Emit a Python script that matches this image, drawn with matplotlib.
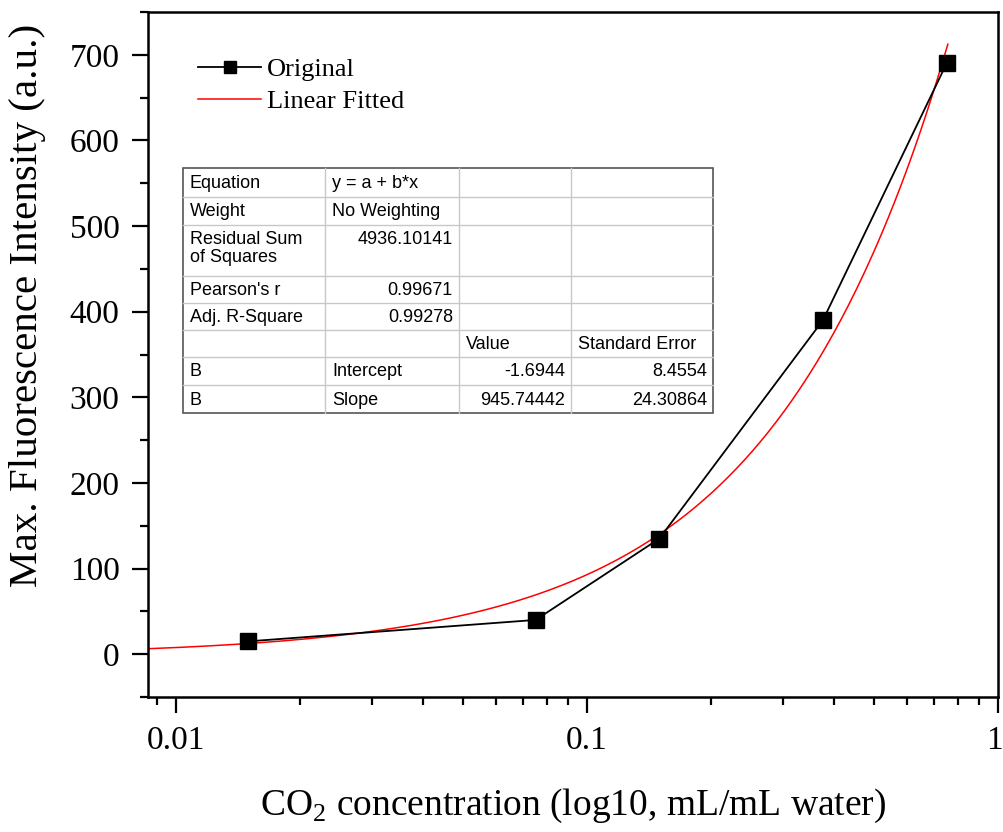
import numpy as np
import matplotlib
matplotlib.use("Agg")
import matplotlib.pyplot as plt
import matplotlib.transforms as mtransforms
from matplotlib.lines import Line2D

plt.rcParams["font.family"] = ["Liberation Serif", "DejaVu Serif"]
plt.rcParams["mathtext.fontset"] = "custom"
plt.rcParams["mathtext.rm"] = "Liberation Serif"

# data
co2 = [0.015, 0.075, 0.15, 0.375, 0.75]
intensity = [15, 40, 135, 390, 690]

# fit parameters (from the results table)
fit_a = -1.6944
fit_b = 945.74442
fit_x_range = [0.0085, 0.755]

table_rows = [
    ["Equation", "y = a + b*x", "", ""],
    ["Weight", "No Weighting", "", ""],
    ["Residual Sum\nof Squares", "4936.10141", "", ""],
    ["Pearson's r", "0.99671", "", ""],
    ["Adj. R-Square", "0.99278", "", ""],
    ["", "", "Value", "Standard Error"],
    ["B", "Intercept", "-1.6944", "8.4554"],
    ["B", "Slope", "945.74442", "24.30864"],
]

W, H = 1004, 832
fig = plt.figure(figsize=(W / 100, H / 100), dpi=100)
ax = fig.add_axes([148 / W, 1 - 697 / H, 850 / W, 685 / H])

fx = np.geomspace(fit_x_range[0], fit_x_range[1], 300)
ax.plot(fx, fit_a + fit_b * fx, color="red", lw=1.1, label="Linear Fitted", zorder=2)
ax.plot(co2, intensity, color="black", lw=1.3, marker="s", markersize=11.5,
        label="Original", zorder=3)

ax.set_xscale("log")
ax.set_xlim(0.00855, 1)
ax.set_ylim(-50, 750)
ax.set_yticks([0, 100, 200, 300, 400, 500, 600, 700])
ax.set_yticks(np.arange(-50, 751, 50), minor=True)
ax.set_xticks([0.01, 0.1, 1])
ax.set_xticklabels(["0.01", "0.1", "1"])

for s in ax.spines.values():
    s.set_linewidth(1.8)
ax.tick_params(which="major", direction="out", length=11.5, width=1.6,
               labelsize=24, pad=9)
ax.tick_params(which="minor", direction="out", length=6, width=1.6)
ax.tick_params(top=False, right=False, which="both")

# keep the "1" at the right edge inside the picture
last = ax.get_xticklabels()[-1]
last.set_transform(last.get_transform() +
                   mtransforms.ScaledTranslation(-4 / 100, 0, fig.dpi_scale_trans))

ax.set_xlabel(r"CO$_\mathrm{2}$ concentration (log10, mL/mL water)", fontsize=27)
ax.xaxis.set_label_coords(0.5, (697 - 815) / 685)
ax.xaxis.label.set_verticalalignment("baseline")
ax.set_ylabel("Max. Fluorescence Intensity (a.u.)", fontsize=29.5)
ax.yaxis.set_label_coords((46 - 148) / 850, (697 - 305) / 685)

# legend
handles, labels = ax.get_legend_handles_labels()
leg = ax.legend(handles[::-1], labels[::-1], loc="upper left",
                bbox_to_anchor=((198 - 148) / 850, (697 - 58) / 685),
                frameon=False, fontsize=19, handlelength=2.4, handletextpad=0.2,
                labelspacing=0.3, borderpad=0, borderaxespad=0, markerscale=0.8)

# results table drawn in figure pixels
col_x = [183, 325, 459, 571, 713]
row_y = [168, 197, 225, 276, 303, 330, 357, 385, 413]


def fy(py):
    return 1 - py / H


for y in row_y[1:-1]:
    fig.add_artist(Line2D([col_x[0] / W, col_x[-1] / W], [fy(y), fy(y)],
                          color="#c8c8c8", lw=1.0))
for x in col_x[1:-1]:
    fig.add_artist(Line2D([x / W, x / W], [fy(row_y[0]), fy(row_y[-1])],
                          color="#c8c8c8", lw=1.0))
fig.add_artist(plt.Rectangle((col_x[0] / W, fy(row_y[-1])),
                             (col_x[-1] - col_x[0]) / W,
                             (row_y[-1] - row_y[0]) / H,
                             fill=False, ec="#555555", lw=1.2))

numeric_cols = {1: [2, 3, 4], 2: [6, 7], 3: [6, 7]}
for r, row in enumerate(table_rows):
    for c, txt in enumerate(row):
        if not txt:
            continue
        if c in numeric_cols and r in numeric_cols[c]:
            x, ha = col_x[c + 1] - 6, "right"
        else:
            x, ha = col_x[c] + 7, "left"
        if r == 2:
            # tall row: text sits at the top of the cell
            y, va = row_y[r] + 6, "top"
        else:
            y, va = (row_y[r] + row_y[r + 1]) / 2 + 1, "center"
        fig.text(x / W, fy(y), txt, ha=ha, va=va, fontsize=13,
                 family=["Liberation Sans", "DejaVu Sans"], linespacing=1.1)

fig.savefig("out.png", dpi=100)
